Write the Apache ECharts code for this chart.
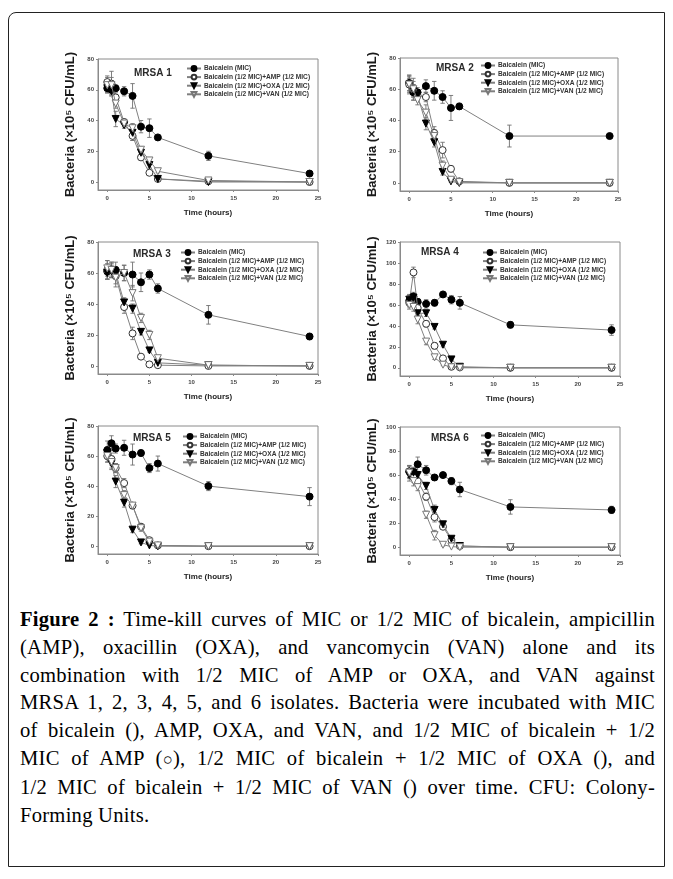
<!DOCTYPE html>
<html>
<head>
<meta charset="utf-8">
<script src="https://cdn.jsdelivr.net/npm/echarts@6/dist/echarts.min.js"></script>
<style>
  html, body { margin: 0; padding: 0; background: #fff; }
  body { width: 673px; height: 879px; position: relative; overflow: hidden; }
  #frame { position: absolute; left: 8px; top: 12px; width: 657px; height: 855px;
           border: 1.3px solid #222; border-radius: 8px 0 0 0; box-sizing: border-box; }
  #chart { position: absolute; left: 0; top: 0; width: 673px; height: 600px; }
  #caption { position: absolute; left: 20px; top: 606px; width: 635px;
             font-family: "Liberation Serif", "DejaVu Serif", serif; font-size: 20.6px;
             letter-spacing: 0.25px; line-height: 27.8px; color: #000; }
  #caption div { text-align: justify; text-align-last: justify; white-space: nowrap; }
  #caption div.last { text-align-last: left; }
  #caption .sym { display: inline-block; font-size: 0.8em; }
</style>
</head>
<body>
<div id="frame"></div>
<div id="chart"></div>
<div id="caption">
  <div><b>Figure 2 :</b> Time-kill curves of MIC or 1/2 MIC of bicalein, ampicillin</div>
  <div>(AMP), oxacillin (OXA), and vancomycin (VAN) alone and its</div>
  <div>combination with 1/2 MIC of AMP or OXA, and VAN against</div>
  <div>MRSA 1, 2, 3, 4, 5, and 6 isolates. Bacteria were incubated with MIC</div>
  <div>of bicalein (), AMP, OXA, and VAN, and 1/2 MIC of bicalein + 1/2</div>
  <div>MIC of AMP (<span class="sym">○</span>), 1/2 MIC of bicalein + 1/2 MIC of OXA (), and</div>
  <div>1/2 MIC of bicalein + 1/2 MIC of VAN () over time. CFU: Colony-</div>
  <div class="last">Forming Units.</div>
</div>
<script>
// Sampling times (hours)
const times = [0, 0.5, 1, 2, 3, 4, 5, 6, 12, 24];
const xTicks = [0, 5, 10, 15, 20, 25];
const seriesNames = [
  'Baicalein (MIC)',
  'Baicalein (1/2 MIC)+AMP (1/2 MIC)',
  'Baicalein (1/2 MIC)+OXA (1/2 MIC)',
  'Baicalein (1/2 MIC)+VAN (1/2 MIC)'
];
const panelTitles = ['MRSA 1', 'MRSA 2', 'MRSA 3', 'MRSA 4', 'MRSA 5', 'MRSA 6'];
const yMaxes = [80, 80, 80, 120, 80, 100];
const yTicks80 = [0, 20, 40, 60, 80];
const yTicks100 = [0, 20, 40, 60, 80, 100];
const yTicks120 = [0, 20, 40, 60, 80, 100, 120];

// MRSA 1
const mic1 = [61, 60, 61, 59, 56, 36, 35, 29, 17, 5.5];
const mic1Err = [3, 3, 2, 3, 8, 4, 6, 1, 3, 1];
const amp1 = [65, 64, 55, 39, 30, 16, 6, 2, 0.5, 0];
const amp1Err = [4, 8, 3, 2, 3, 2, 1, 0.5, 0, 0];
const oxa1 = [61, 59, 41, 37, 32, 19, 11, 2, 0, 0];
const oxa1Err = [3, 3, 5, 2, 5, 2, 2, 0.5, 0, 0];
const van1 = [63, 63, 51, 38, 35, 21, 14, 7, 1, 0];
const van1Err = [5, 5, 3, 2, 3, 2, 2, 1, 0, 0];

// MRSA 2
const mic2 = [64, 58, 58, 62, 59, 55, 48, 49, 30, 30];
const mic2Err = [5, 5, 3, 4, 6, 4, 8, 2, 7, 1];
const amp2 = [63, 60, 56, 55, 32, 21, 9, 1, 0, 0];
const amp2Err = [6, 7, 3, 3, 4, 5, 2, 0.5, 0, 0];
const oxa2 = [63, 59, 56, 38, 26, 7, 1, 0, 0, 0];
const oxa2Err = [4, 4, 3, 4, 3, 2, 0.5, 0, 0, 0];
const van2 = [63, 60, 53, 45, 30, 11, 2, 0.5, 0, 0];
const van2Err = [5, 5, 3, 5, 4, 3, 1, 0, 0, 0];

// MRSA 3
const mic3 = [61, 62, 62, 60, 59, 54, 59, 50, 33, 19];
const mic3Err = [5, 4, 5, 5, 8, 6, 3, 3, 6, 2];
const amp3 = [62, 62, 58, 38, 21, 6, 1, 0.5, 0, 0];
const amp3Err = [6, 5, 5, 4, 4, 1, 0.5, 0, 0, 0];
const oxa3 = [60, 61, 60, 41, 37, 22, 10, 2, 0.5, 0];
const oxa3Err = [4, 4, 4, 3, 3, 2, 1, 0.5, 0, 0];
const van3 = [63, 62, 57, 60, 47, 31, 20, 5, 0.5, 0];
const van3Err = [5, 5, 6, 5, 5, 3, 3, 1, 0, 0];

// MRSA 4
const mic4 = [64, 68, 63, 61, 62, 70, 65, 62, 41, 36];
const mic4Err = [5, 4, 3, 4, 3, 2, 4, 6, 3, 5];
const amp4 = [62, 91, 57, 42, 21, 9, 1, 0.5, 0, 0];
const amp4Err = [4, 5, 4, 3, 3, 2, 0.5, 0, 0, 0];
const oxa4 = [65, 67, 52, 52, 39, 22, 8, 1, 0, 0];
const oxa4Err = [5, 4, 3, 3, 2, 2, 1, 0.5, 0, 0];
const van4 = [60, 58, 46, 25, 10, 3, 0.5, 0, 0, 0];
const van4Err = [4, 4, 4, 3, 2, 1, 0, 0, 0, 0];

// MRSA 5
const mic5 = [64, 68.5, 65, 65.5, 61, 62, 52, 55, 40, 33];
const mic5Err = [6, 5, 3, 5, 7, 2, 3, 5, 3, 6];
const amp5 = [60, 58, 52, 42, 27, 13, 4, 0.5, 0, 0];
const amp5Err = [4, 4, 3, 3, 2, 2, 1, 0, 0, 0];
const oxa5 = [62, 55, 43, 29, 11, 2.5, 0.5, 0, 0, 0];
const oxa5Err = [4, 4, 4, 3, 2, 1, 0, 0, 0, 0];
const van5 = [60, 56, 52, 34, 27, 12, 3, 0.5, 0, 0];
const van5Err = [4, 4, 3, 3, 2, 2, 1, 0, 0, 0];

// MRSA 6
const mic6 = [63, 62.5, 69, 64, 58, 60, 55, 48, 33.5, 31];
const mic6Err = [5, 4, 6, 4, 2, 1, 3, 6, 6, 3];
const amp6 = [63, 58, 55, 42, 25, 17, 6, 1, 0, 0];
const amp6Err = [5, 4, 3, 3, 4, 2, 1, 0, 0, 0];
const oxa6 = [60, 62, 60, 51, 31, 19, 7, 1, 0, 0];
const oxa6Err = [5, 4, 3, 3, 4, 2, 1, 0, 0, 0];
const van6 = [62, 55, 50, 27, 10, 2, 0.5, 0, 0, 0];
const van6Err = [5, 4, 3, 3, 4, 1, 0, 0, 0, 0];

const panelValues = [
  [mic1, amp1, oxa1, van1], [mic2, amp2, oxa2, van2], [mic3, amp3, oxa3, van3],
  [mic4, amp4, oxa4, van4], [mic5, amp5, oxa5, van5], [mic6, amp6, oxa6, van6]
];
const panelErrors = [
  [mic1Err, amp1Err, oxa1Err, van1Err], [mic2Err, amp2Err, oxa2Err, van2Err],
  [mic3Err, amp3Err, oxa3Err, van3Err], [mic4Err, amp4Err, oxa4Err, van4Err],
  [mic5Err, amp5Err, oxa5Err, van5Err], [mic6Err, amp6Err, oxa6Err, van6Err]
];
const panelYTicks = [yTicks80, yTicks80, yTicks80, yTicks120, yTicks80, yTicks100];

// Plot boxes and in-plot title / legend placement (pixels)
const boxes = [
  { left: 98,  top: 59,  width: 220, height: 131 },
  { left: 400, top: 58,  width: 218, height: 133 },
  { left: 98,  top: 242, width: 220, height: 132 },
  { left: 400, top: 242, width: 220, height: 134 },
  { left: 98,  top: 426, width: 220, height: 128 },
  { left: 400, top: 427, width: 220, height: 128 }
];
const titlePos = [[134, 68], [436, 63], [133, 249], [421, 247], [133, 433], [431, 433]];
const legendPos = [[186, 65], [480, 62], [180, 249], [482, 249], [182, 433], [480, 432]];

const sans = '"Liberation Sans", Arial, "DejaVu Sans", sans-serif';
const lineGray = '#808080';

// marker styles: filled circle, open circle, filled down-triangle, open down-triangle
const markerStyles = [
  { symbol: 'circle', rotate: 0, fill: '#000', border: '#000', size: 7 },
  { symbol: 'circle', rotate: 0, fill: '#fff', border: '#333', size: 7 },
  { symbol: 'triangle', rotate: 180, fill: '#000', border: '#000', size: 7 },
  { symbol: 'triangle', rotate: 180, fill: '#fff', border: '#777', size: 7 }
];

function errorBarRender(params, api) {
  const x = api.value(0), y = api.value(1), e = api.value(2);
  if (!e) return null;
  const hi = api.coord([x, y + e]);
  const lo = api.coord([x, y - e]);
  const w = 2.2;
  const st = { stroke: '#707070', lineWidth: 0.9 };
  return {
    type: 'group',
    children: [
      { type: 'line', shape: { x1: hi[0], y1: hi[1], x2: lo[0], y2: lo[1] }, style: st },
      { type: 'line', shape: { x1: hi[0] - w, y1: hi[1], x2: hi[0] + w, y2: hi[1] }, style: st },
      { type: 'line', shape: { x1: lo[0] - w, y1: lo[1], x2: lo[0] + w, y2: lo[1] }, style: st }
    ]
  };
}

const grid = [], xAxis = [], yAxis = [], series = [], title = [], legend = [];

boxes.forEach((b, i) => {
  grid.push({ left: b.left, top: b.top, width: b.width, height: b.height,
              show: true, borderColor: '#8a8a8a', borderWidth: 1, backgroundColor: 'transparent' });
  xAxis.push({
    gridIndex: i, type: 'value', min: -1.1, max: 25,
    axisLine: { show: true, onZero: false, lineStyle: { color: '#8a8a8a', width: 1 } },
    axisTick: { show: true, inside: false, length: 2, customValues: xTicks, lineStyle: { color: '#8a8a8a' } },
    axisLabel: { customValues: xTicks, fontSize: 6, fontWeight: 'bold', color: '#444', margin: 5, fontFamily: sans },
    splitLine: { show: false },
    name: 'Time (hours)', nameLocation: 'middle', nameGap: 19,
    nameTextStyle: { fontSize: 8, fontWeight: 'bold', color: '#222', fontFamily: sans }
  });
  const ymax = yMaxes[i];
  yAxis.push({
    gridIndex: i, type: 'value', min: -ymax * 0.065, max: ymax,
    axisLine: { show: true, onZero: false, lineStyle: { color: '#8a8a8a', width: 1 } },
    axisTick: { show: true, inside: false, length: 2, customValues: panelYTicks[i], lineStyle: { color: '#8a8a8a' } },
    axisLabel: { customValues: panelYTicks[i], fontSize: 6, fontWeight: 'bold', color: '#444', margin: 4, fontFamily: sans },
    splitLine: { show: false },
    name: 'Bacteria (×10⁵ CFU/mL)', nameLocation: 'middle', nameGap: 21,
    nameTextStyle: { fontSize: 13, fontWeight: 'bold', color: '#1a1a1a', fontFamily: sans }
  });
  title.push({
    text: panelTitles[i], left: titlePos[i][0], top: titlePos[i][1], padding: 0,
    textStyle: { fontSize: 10, fontWeight: 'bold', color: '#2a2a2a', fontFamily: sans }
  });
  legend.push({
    data: seriesNames.slice(), orient: 'vertical', left: legendPos[i][0], top: legendPos[i][1],
    padding: 0, itemGap: 1.6, itemWidth: 14, itemHeight: 6, selectedMode: false,
    textStyle: { fontSize: 6.6, fontWeight: 'bold', color: '#333', fontFamily: sans, padding: [0, 0, 0, -2] }
  });

  panelValues[i].forEach((vals, s) => {
    const ms = markerStyles[s];
    series.push({
      type: 'custom', xAxisIndex: i, yAxisIndex: i, z: 1, silent: true,
      renderItem: errorBarRender,
      data: times.map((t, k) => [t, vals[k], panelErrors[i][s][k]])
    });
    series.push({
      type: 'line', name: seriesNames[s], xAxisIndex: i, yAxisIndex: i, z: 2 + s,
      data: times.map((t, k) => [t, vals[k]]),
      symbol: ms.symbol, symbolRotate: ms.rotate, symbolSize: ms.size, showAllSymbol: true,
      lineStyle: { color: lineGray, width: 1 },
      itemStyle: { color: ms.fill, borderColor: ms.border, borderWidth: 1 },
      animation: false
    });
  });
});

const chart = echarts.init(document.getElementById('chart'), null, { renderer: 'canvas' });
chart.setOption({
  animation: false,
  backgroundColor: 'transparent',
  grid, xAxis, yAxis, series, title, legend
});
</script>
</body>
</html>
